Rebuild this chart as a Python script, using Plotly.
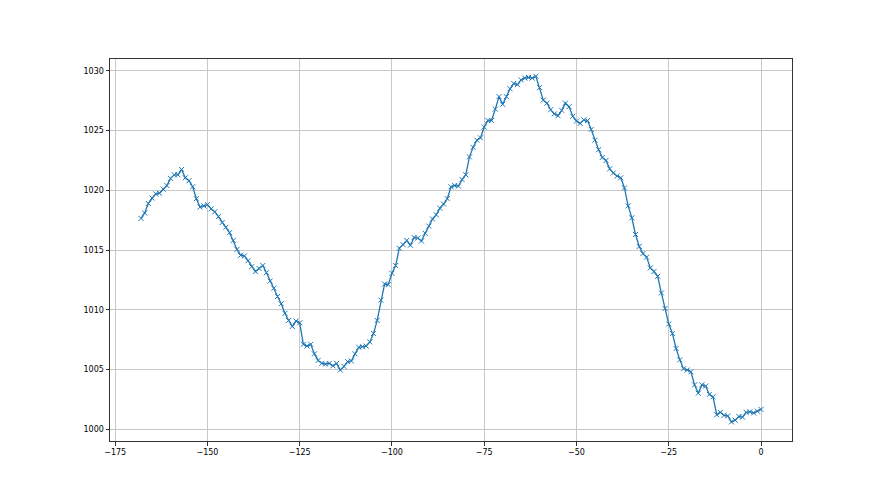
import plotly.graph_objects as go

# hours before now
hours = list(range(-168, 1))

# pressure readings (hPa)
pressure = [
    1017.65, 1018.1, 1018.9, 1019.35, 1019.7, 1019.75, 1020.1, 1020.4, 1021.0, 1021.3,
    1021.3, 1021.75, 1021.05, 1020.8, 1020.3, 1019.3, 1018.6, 1018.7, 1018.8, 1018.45,
    1018.2, 1017.8, 1017.3, 1016.9, 1016.45, 1015.8, 1015.05, 1014.55, 1014.5, 1014.1,
    1013.6, 1013.2, 1013.45, 1013.7, 1013.1, 1012.4, 1011.8, 1011.1, 1010.5, 1009.7,
    1009.1, 1008.6, 1009.05, 1008.9, 1007.1, 1006.95, 1007.1, 1006.3, 1005.75, 1005.5,
    1005.45, 1005.5, 1005.3, 1005.5, 1004.95, 1005.25, 1005.65, 1005.7, 1006.3, 1006.85,
    1006.9, 1006.95, 1007.3, 1008.0, 1009.1, 1010.8, 1012.15, 1012.1, 1013.05, 1013.7,
    1015.15, 1015.45, 1015.8, 1015.4, 1016.05, 1016.0, 1015.75, 1016.4, 1017.0, 1017.6,
    1017.95, 1018.5, 1018.85, 1019.3, 1020.3, 1020.4, 1020.35, 1020.9, 1021.3, 1022.8,
    1023.6, 1024.2, 1024.4, 1025.3, 1025.85, 1025.85, 1026.8, 1027.85, 1027.2, 1027.85,
    1028.5, 1028.95, 1028.85, 1029.25, 1029.4, 1029.45, 1029.4, 1029.55, 1028.6, 1027.55,
    1027.3, 1026.75, 1026.4, 1026.25, 1026.7, 1027.3, 1027.0, 1026.2, 1025.8, 1025.6,
    1025.9, 1025.85, 1025.1, 1024.2, 1023.4, 1022.75, 1022.5, 1021.8, 1021.45, 1021.2,
    1021.05, 1020.2, 1018.7, 1017.7, 1016.3, 1015.3, 1014.7, 1014.4, 1013.5, 1013.2,
    1012.8, 1011.4, 1010.1, 1008.8, 1008.0, 1006.75, 1005.8, 1005.05, 1004.95, 1004.8,
    1003.7, 1003.0, 1003.7, 1003.6, 1002.9, 1002.7, 1001.2, 1001.4, 1001.15, 1001.1,
    1000.6, 1000.75, 1001.05, 1001.0, 1001.4, 1001.45, 1001.35, 1001.5, 1001.65,
]

x_ticks = [-175, -150, -125, -100, -75, -50, -25, 0]
y_ticks = [1000, 1005, 1010, 1015, 1020, 1025, 1030]

fig = go.Figure()
fig.add_trace(go.Scatter(
    x=hours, y=pressure, mode='lines+markers',
    line=dict(color='#1f77b4', width=1.3),
    marker=dict(symbol='x-thin-open', size=5,
                line=dict(color='rgba(31,119,180,0.7)', width=1)),
))

axis_style = dict(
    showline=True, linecolor='#333333', linewidth=1, mirror=True,
    showgrid=True, gridcolor='#c8c8c8', gridwidth=0.8, zeroline=False,
    ticks='outside', ticklen=3.5, tickcolor='#333333',
    tickfont=dict(family='DejaVu Sans', size=8, color='black'),
)
fig.update_xaxes(range=[-176.4, 8.4], tickvals=x_ticks, **axis_style)
fig.update_yaxes(range=[999.0, 1031.0], tickvals=y_ticks, **axis_style)
# page body adds an 8px offset, so margins are shifted to compensate
fig.update_layout(
    width=880, height=495,
    margin=dict(l=102, r=96, t=51, b=62),
    plot_bgcolor='white', paper_bgcolor='white',
    showlegend=False,
)
fig.write_html("out.html")
